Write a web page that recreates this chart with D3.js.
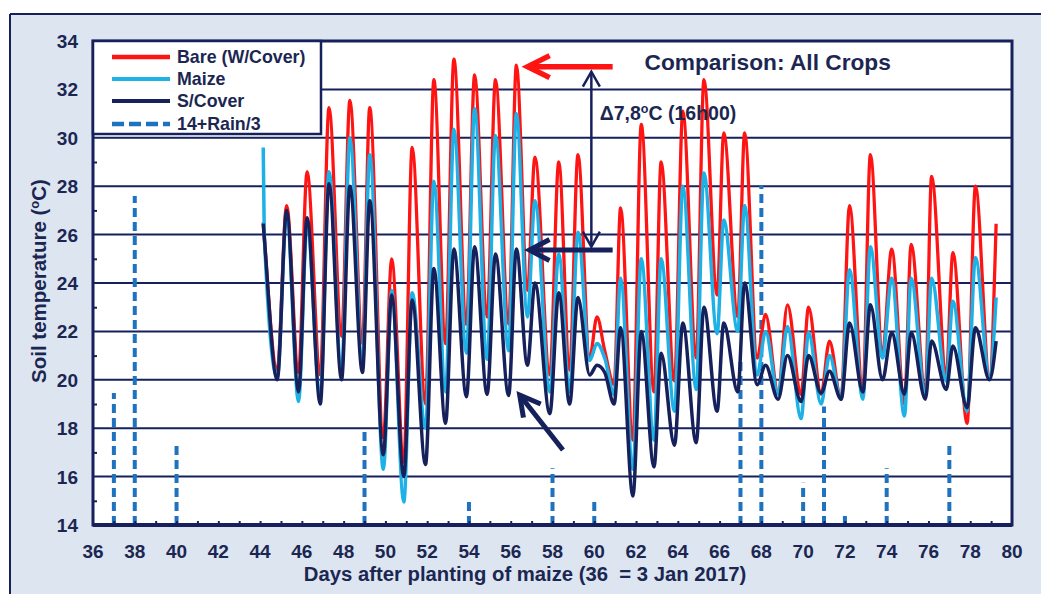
<!DOCTYPE html>
<html><head><meta charset="utf-8">
<script src="https://cdn.jsdelivr.net/npm/d3@7/dist/d3.min.js"></script>
<style>
body{margin:0;background:#fff;}
svg{display:block;font-family:"Liberation Sans",Arial,sans-serif;font-weight:bold;}
</style></head><body>
<svg id="c" width="1041" height="594"></svg>
<script>
// ---- data ----
const days = [44.15,44.20,44.82,45.27,45.84,46.25,46.88,47.30,47.90,48.30,48.90,49.25,49.90,50.30,50.88,51.28,51.92,52.32,52.88,53.28,53.88,54.27,54.87,55.27,55.90,56.27,56.80,57.16,57.87,58.30,58.82,59.22,59.78,60.13,60.50,60.95,61.26,61.85,62.25,62.86,63.20,63.84,64.24,64.88,65.25,65.88,66.20,66.87,67.20,67.80,68.20,68.80,69.25,69.90,70.26,70.86,71.26,71.82,72.22,72.86,73.22,73.80,74.24,74.85,75.17,75.85,76.15,76.85,77.17,77.85,78.25,78.92,79.24];
const bare = [26.5,25.9,20.4,27.2,20.3,28.6,20.2,31.25,21.8,31.55,21.5,31.25,17.6,25.0,16.6,29.6,19.0,32.4,21.5,33.25,22.3,32.6,22.6,32.4,22.3,33.0,23.7,29.2,20.2,29.0,20.4,29.3,20.9,22.6,21.2,19.8,27.1,17.5,30.55,19.5,29.0,19.95,31.1,20.9,32.4,23.5,30.2,22.6,30.2,20.9,22.7,19.5,23.1,19.4,23.0,19.4,21.6,19.2,27.2,19.5,29.3,21.1,25.4,19.0,25.6,19.5,28.4,20.2,25.25,18.2,28.0,20.15,26.45];
const maize = [29.6,26.0,20.1,26.8,19.1,26.4,19.3,28.6,20.3,30.0,20.6,29.3,16.3,23.7,14.95,23.6,18.0,28.2,19.5,30.35,21.1,31.2,20.85,30.1,21.2,31.0,22.6,27.4,19.5,25.2,19.5,26.1,20.8,21.5,20.9,19.4,24.2,16.3,25.0,17.5,25.0,18.7,28.0,19.6,28.55,21.9,26.6,22.0,27.2,20.2,22.0,19.4,22.2,18.4,21.95,19.0,21.0,19.2,24.55,19.2,25.5,20.9,24.2,18.5,24.2,19.3,24.2,19.95,23.25,18.7,25.05,20.1,23.4];
const sCover = [26.45,25.9,20.0,27.0,19.5,26.7,19.0,28.1,20.0,28.0,20.3,27.4,16.9,23.5,16.0,23.3,16.5,24.6,18.2,25.4,19.3,25.5,19.4,25.2,19.35,25.4,20.6,24.0,18.6,23.6,19.0,23.4,20.2,20.6,20.3,19.0,22.15,15.2,22.0,16.4,21.1,17.3,22.35,17.4,23.0,18.7,22.35,19.5,24.0,19.8,20.6,19.2,21.0,19.1,21.0,19.45,20.35,19.2,22.35,19.5,23.1,20.0,21.95,19.4,21.95,19.2,21.6,19.6,21.4,18.85,22.15,20.0,21.6];
const rainDays = [37,38,40,49,54,58,60,67,68,70,71,72,74,77];
const rainValues = [19.45,27.6,17.3,18.05,15.15,16.35,15.05,20.8,28.05,15.75,18.9,14.45,16.35,17.3];
const xTickLabels = [36,38,40,42,44,46,48,50,52,54,56,58,60,62,64,66,68,70,72,74,76,78,80];
const yTickLabels = [14,16,18,20,22,24,26,28,30,32,34];
const seriesNames = ["Bare (W/Cover)","Maize","S/Cover","14+Rain/3"];

// ---- styles ----
const NAVY = "#16215c", TEXT = "#1b2752", RED = "#ff1414", MAIZE = "#1db1e6", RAIN = "#1f72bd";
const svg = d3.select("#c");
const W = 1041, H = 594;
const P = {l:93, r:1012, t:41, b:525};
const x = d3.scaleLinear().domain([36,80]).range([P.l,P.r]);
const y = d3.scaleLinear().domain([14,34]).range([P.b,P.t]);

// outer background
svg.append("rect").attr("x",0).attr("y",0).attr("width",W).attr("height",H).attr("fill","#fff");
svg.append("rect").attr("x",10).attr("y",14).attr("width",W-10).attr("height",H-14).attr("fill","#dde5f0");
svg.append("line").attr("x1",10).attr("x2",W).attr("y1",14).attr("y2",14).attr("stroke",NAVY).attr("stroke-width",2);
svg.append("line").attr("x1",10).attr("x2",10).attr("y1",14).attr("y2",H).attr("stroke",NAVY).attr("stroke-width",2);

// plot area
svg.append("rect").attr("x",P.l).attr("y",P.t).attr("width",P.r-P.l).attr("height",P.b-P.t).attr("fill","#fff");

// gridlines
svg.append("g").selectAll("line").data(yTickLabels.filter(v=>v>14&&v<34)).join("line")
  .attr("x1",P.l).attr("x2",P.r).attr("y1",d=>y(d)).attr("y2",d=>y(d))
  .attr("stroke",NAVY).attr("stroke-width",2);

// rain spikes
svg.append("g").selectAll("line").data(rainDays.map((d,i)=>[d,rainValues[i]])).join("line")
  .attr("x1",d=>x(d[0])).attr("x2",d=>x(d[0])).attr("y1",y(14)).attr("y2",d=>y(d[1]))
  .attr("stroke",RAIN).attr("stroke-width",4).attr("stroke-dasharray","9,5");

// series lines
const line = d3.line().x(d=>x(d[0])).y(d=>y(d[1])).curve(d3.curveMonotoneX);
[[bare,RED,3.3],[maize,MAIZE,3.5],[sCover,NAVY,3.5]].forEach(([vals,col,w])=>{
  svg.append("path").datum(days.map((d,i)=>[d,vals[i]])).attr("d",line)
    .attr("fill","none").attr("stroke",col).attr("stroke-width",w).attr("stroke-linejoin","round");
});

// minor ticks
const xAxisMinor = d3.axisBottom(x).tickValues(d3.range(37,80,1)).tickSize(-4).tickFormat("");
const gx = svg.append("g").attr("transform",`translate(0,${P.b})`).call(xAxisMinor);
gx.select(".domain").remove();
gx.selectAll("line").attr("stroke",NAVY).attr("stroke-width",2);
const yAxisMinor = d3.axisLeft(y).tickValues(d3.range(15,34,2)).tickSize(-4).tickFormat("");
const gy = svg.append("g").attr("transform",`translate(${P.l},0)`).call(yAxisMinor);
gy.select(".domain").remove();
gy.selectAll("line").attr("stroke",NAVY).attr("stroke-width",2);

// plot border
svg.append("rect").attr("x",P.l).attr("y",P.t).attr("width",P.r-P.l).attr("height",P.b-P.t)
  .attr("fill","none").attr("stroke",NAVY).attr("stroke-width",3);
svg.append("line").attr("x1",P.l).attr("x2",P.r).attr("y1",P.b).attr("y2",P.b).attr("stroke",NAVY).attr("stroke-width",4);

// tick labels
svg.append("g").selectAll("text").data(xTickLabels).join("text")
  .attr("x",d=>x(d)).attr("y",558).attr("text-anchor","middle")
  .attr("font-size",19).attr("fill",TEXT).text(d=>d);
svg.append("g").selectAll("text").data(yTickLabels).join("text")
  .attr("x",78).attr("y",d=>y(d)+7).attr("text-anchor","end")
  .attr("font-size",19).attr("fill",TEXT).text(d=>d);

// axis titles
svg.append("text").attr("x",525).attr("y",581).attr("text-anchor","middle")
  .attr("font-size",20.3).attr("fill",TEXT).style("white-space","pre")
  .text("Days after planting of maize (36  = 3 Jan 2017)");
const yt = svg.append("text").attr("transform","translate(46,281) rotate(-90)").attr("text-anchor","middle")
  .attr("font-size",20.5).attr("fill",TEXT);
yt.append("tspan").text("Soil temperature (");
yt.append("tspan").attr("font-size",13).attr("dy",-7).text("o");
yt.append("tspan").attr("dy",7).text("C)");

// legend
svg.append("rect").attr("x",P.l).attr("y",P.t).attr("width",228).attr("height",93)
  .attr("fill","#fff").attr("stroke",NAVY).attr("stroke-width",2.5);
const legRows = [57,79,101,124];
const legStyles = [[RED,4.5,null],[MAIZE,4,null],[NAVY,4,null],[RAIN,4.5,"12,5"]];
seriesNames.forEach((n,i)=>{
  const ln = svg.append("line").attr("x1",112).attr("x2",170).attr("y1",legRows[i]).attr("y2",legRows[i])
    .attr("stroke",legStyles[i][0]).attr("stroke-width",legStyles[i][1]);
  if(legStyles[i][2]) ln.attr("stroke-dasharray",legStyles[i][2]);
  svg.append("text").attr("x",177).attr("y",legRows[i]+6).attr("font-size",17.8).attr("fill",TEXT).text(n);
});

// title
svg.append("text").attr("x",x(62.41)).attr("y",y(32.8)).attr("font-size",22.7).attr("fill",TEXT)
  .text("Comparison: All Crops");

// annotations
function arrow(x1,y1,x2,y2,len,half,w,col,both){
  const g = svg.append("g").attr("stroke",col).attr("stroke-width",w).attr("fill","none")
    .attr("stroke-linecap","butt").attr("stroke-linejoin","miter");
  const X1=x(x1),Y1=y(y1),X2=x(x2),Y2=y(y2);
  g.append("line").attr("x1",X1).attr("y1",Y1).attr("x2",X2).attr("y2",Y2);
  const head=(tx,ty,fx,fy)=>{
    const dx=tx-fx, dy=ty-fy, L=Math.hypot(dx,dy), ux=dx/L, uy=dy/L;
    const bx=tx-ux*len, by=ty-uy*len;
    g.append("path").attr("d",`M${bx-uy*half},${by+ux*half}L${tx},${ty}L${bx+uy*half},${by-ux*half}`);
  };
  head(X2,Y2,X1,Y1);
  if(both) head(X1,Y1,X2,Y2);
}
arrow(60.88,32.94,56.81,32.94,22,11,5.5,RED,false);
arrow(60.88,25.36,56.9,25.36,20,10.5,5,NAVY,false);
arrow(59.86,25.5,59.86,32.73,15,8.5,2.5,NAVY,true);
arrow(58.5,17.1,56.43,19.37,20,11,5,NAVY,false);

const dt = svg.append("text").attr("x",x(60.26)).attr("y",y(30.74)).attr("font-size",19.5).attr("fill",TEXT);
dt.append("tspan").text("\u03947,8");
dt.append("tspan").attr("font-size",12.5).attr("dy",-7).text("o");
dt.append("tspan").attr("dy",7).text("C (16h00)");
</script></body></html>
